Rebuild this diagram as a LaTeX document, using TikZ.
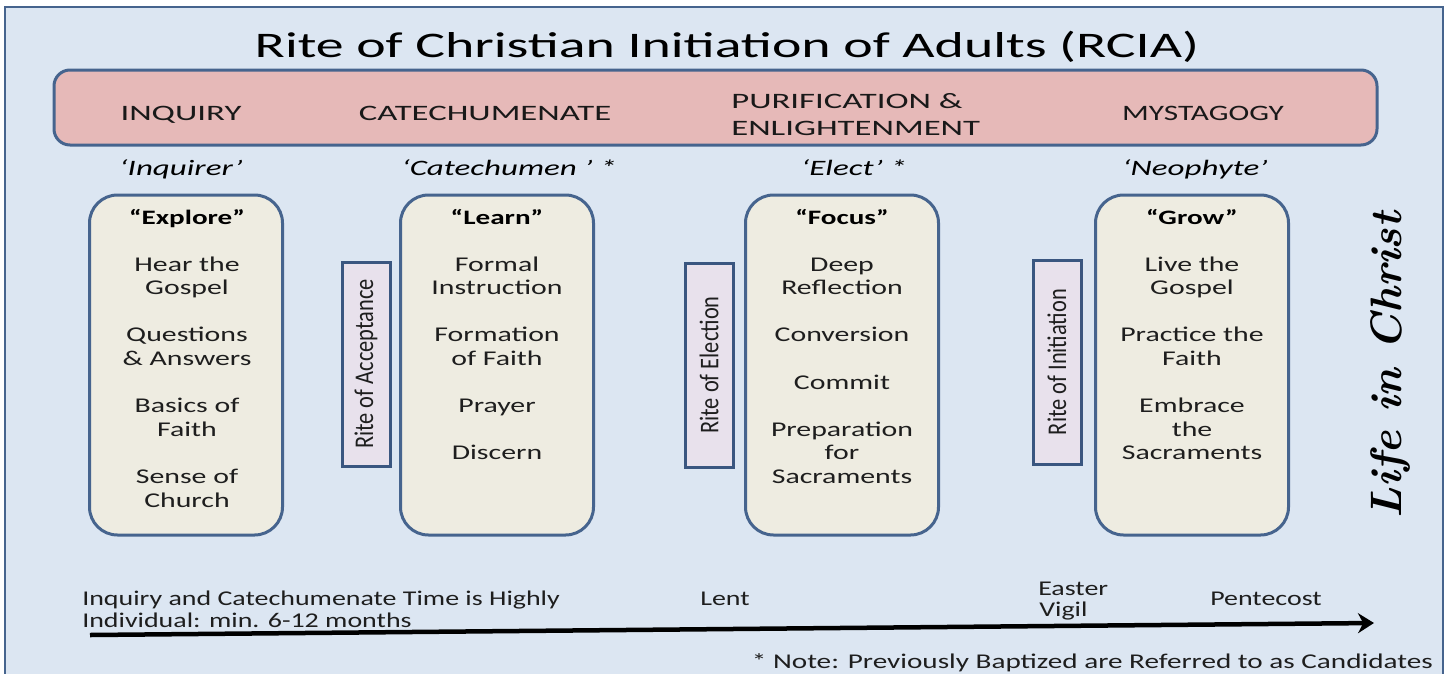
\documentclass[tikz,border=0pt]{standalone}
\usepackage{fontspec}
\setmainfont{Carlito}
\newfontfamily\lifefont{lmroman10-bolditalic.otf}
\usetikzlibrary{arrows.meta}
\definecolor{panelblue}{HTML}{DCE6F2}
\definecolor{edgeblue}{HTML}{46648E}
\definecolor{pinkband}{HTML}{E6B9B8}
\definecolor{beige}{HTML}{EEECE1}
\definecolor{ritefill}{HTML}{E8E1EC}
\definecolor{riteedge}{HTML}{3A5680}
\definecolor{ink}{HTML}{1E1E1E}
\begin{document}
\begin{tikzpicture}[x=1pt,y=-1pt,
 titletxt/.style={font=\fontsize{36}{42}\selectfont, xscale=1.55, anchor=base, text=black},
 phasetxt/.style={font=\fontsize{22}{27}\selectfont, xscale=1.58, anchor=base, text=black!90},
 roletxt/.style={font=\itshape\fontsize{22}{25}\selectfont, xscale=1.5, anchor=base, text=black},
 stagebox/.style={draw=edgeblue, fill=beige, line width=3pt, rounded corners=28pt, minimum width=193pt, minimum height=340pt, inner sep=0pt},
 ritebox/.style={draw=riteedge, fill=ritefill, line width=3pt, minimum width=48pt, minimum height=204pt, inner sep=0pt},
 ritetxt/.style={font=\fontsize{27}{30}\selectfont, rotate=90, xscale=0.83, text=ink},
 headtxt/.style={font=\bfseries\fontsize{20.5}{23}\selectfont, xscale=1.42, anchor=base, text=black},
 itemtxt/.style={font=\fontsize{21}{23}\selectfont, xscale=1.42, anchor=base, text=ink},
 timetxt/.style={font=\fontsize{21}{24}\selectfont, xscale=1.33, anchor=base west, inner sep=0pt, text=ink},
 lifetxt/.style={font=\lifefont\fontsize{44}{50}\selectfont, rotate=90, text=black},
 timeline/.style={line width=4.5pt, -{Stealth[length=16pt,width=20pt]}}
]
\useasboundingbox (0,0) rectangle (1451,673);
\fill[white] (0,0) rectangle (1451,673);
\begin{scope}
\clip (0,0) rectangle (1451,673);
\fill[panelblue] (5,7) rectangle (1443,690);
\draw[edgeblue, line width=2pt] (5,690) -- (5,7) -- (1443,7) -- (1443,690);
\end{scope}

% title and phase band
\node[titletxt] (title) at (727,57) {Rite of Christian Initiation of Adults (RCIA)};
\node[draw=edgeblue, fill=pinkband, line width=3pt, rounded corners=16pt, minimum width=1323pt, minimum height=75pt, inner sep=0pt] (band) at (715.5,107.5) {};
\node[phasetxt] (inq) at (181,120) {INQUIRY};
\node[phasetxt] (cat) at (485,120) {CATECHUMENATE};
\node[phasetxt, anchor=base west, inner sep=0pt] (pur1) at (731,108) {PURIFICATION \&};
\node[phasetxt, anchor=base west, inner sep=0pt] (pur2) at (731,135) {ENLIGHTENMENT};
\node[phasetxt, xscale=0.9] (myst) at (1203,120) {MYSTAGOGY};

% roles
\node[roletxt] (rinq) at (181,175) {‘Inquirer’};
\node[roletxt] (rcat) at (509,175) {‘Catechumen ’ *};
\node[roletxt] (relect) at (854,175) {‘Elect’ *};
\node[roletxt] (rneo) at (1195,175) {‘Neophyte’};

% stage boxes
\node[stagebox] (explore) at (186,365) {};
\node[stagebox] (learn) at (497,365) {};
\node[stagebox] (focus) at (842,365) {};
\node[stagebox] (grow) at (1192,365) {};

% rite boxes
\node[ritebox] (acc) at (366,364) {};
\node[ritetxt] (acct) at (acc.center) {Rite of Acceptance};
\node[ritebox] (elec) at (709,365) {};
\node[ritetxt] (elect) at (elec.center) {Rite of Election};
\node[ritebox] (init) at (1057,362) {};
\node[ritetxt] (initt) at (init.center) {Rite of Initiation};

% box headings
\node[headtxt] (hexp) at (187,224) {“Explore”};
\node[headtxt] (hlrn) at (497,224) {“Learn”};
\node[headtxt] (hfoc) at (842,224) {“Focus”};
\node[headtxt] (hgrw) at (1192,224) {“Grow”};

% items
\foreach \t/\k [count=\i] in {Hear the/0, Gospel/1, Questions/3, {\& Answers}/4, Basics of/6, Faith/7, Sense of/9, Church/10}
  \node[itemtxt] (ex\i) at (187,{271+23.6*\k}) {\t};
\foreach \t/\k [count=\i] in {Formal/0, Instruction/1, Formation/3, of Faith/4, Prayer/6, Discern/8}
  \node[itemtxt] (le\i) at (497,{271+23.6*\k}) {\t};
\foreach \t/\k [count=\i] in {Deep/0, Reflection/1, Conversion/3, Commit/5, Preparation/7, for/8, Sacraments/9}
  \node[itemtxt] (fo\i) at (842,{271+23.6*\k}) {\t};
\foreach \t/\k [count=\i] in {Live the/0, Gospel/1, Practice the/3, Faith/4, Embrace/6, the/7, Sacraments/8}
  \node[itemtxt] (gr\i) at (1192,{271+23.6*\k}) {\t};

% life in Christ
\node[lifetxt] (life) at (1390,365) {Life in Christ};

% timeline
\coordinate (tstart) at (90,635);
\coordinate (tend) at (1374,623);
\draw[timeline] (tstart) -- (tend);
\node[timetxt] (t1) at (82,605) {Inquiry and Catechumenate Time is Highly};
\node[timetxt] (t2) at (82,627) {Individual: min. 6-12 months};
\node[timetxt] (lent) at (700,605) {Lent};
\node[timetxt] (easter) at (1038,595) {Easter};
\node[timetxt] (vigil) at (1039,616) {Vigil};
\node[timetxt] (pente) at (1210,605) {Pentecost};
\node[timetxt, anchor=base east, xscale=1.045] (note) at (1433,668) {* Note: Previously Baptized are Referred to as Candidates};
\end{tikzpicture}
\end{document}
